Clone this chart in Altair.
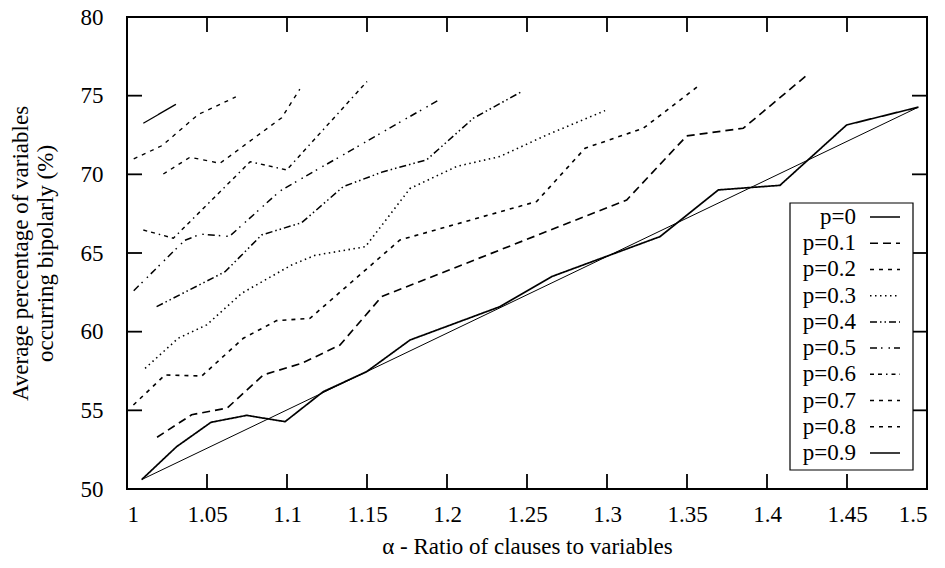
import altair as alt
import pandas as pd

# ---------------- data ----------------
series_labels = ["p=0", "p=0.1", "p=0.2", "p=0.3", "p=0.4",
                 "p=0.5", "p=0.6", "p=0.7", "p=0.8", "p=0.9"]

alpha_p00 = [1.0092, 1.031, 1.0525, 1.0748, 1.0988, 1.1227, 1.1498, 1.1769,
             1.2331, 1.2654, 1.3331, 1.3696, 1.4081, 1.4498, 1.4946]
pct_p00 = [50.6, 52.69, 54.24, 54.68, 54.28, 56.19, 57.46, 59.47,
           61.59, 63.5, 66.04, 69.01, 69.30, 73.14, 74.27]

alpha_p01 = [1.0188, 1.0404, 1.0627, 1.0852, 1.1092, 1.1331, 1.1592,
             1.3123, 1.3498, 1.3852, 1.4244]
pct_p01 = [53.29, 54.72, 55.15, 57.25, 57.99, 59.15, 62.23,
           68.37, 72.44, 72.93, 76.26]

alpha_p02 = [1.004, 1.0238, 1.0467, 1.0727, 1.0935, 1.1144, 1.1706,
             1.256, 1.2863, 1.3227, 1.358]
pct_p02 = [55.34, 57.25, 57.18, 59.58, 60.70, 60.85, 65.83,
           68.27, 71.66, 72.93, 75.68]

alpha_p03 = [1.0113, 1.032, 1.0498, 1.0717, 1.1029, 1.1175, 1.149,
             1.1769, 1.206, 1.233, 1.2623, 1.2988]
pct_p03 = [57.67, 59.58, 60.43, 62.44, 64.24, 64.85, 65.4,
           69.1, 70.5, 71.13, 72.5, 74.05]

alpha_p04 = [1.0185, 1.0613, 1.0842, 1.1092, 1.1352, 1.1602, 1.1873,
             1.2165, 1.2467]
pct_p04 = [61.59, 63.81, 66.15, 66.93, 69.22, 70.17, 70.92, 73.57, 75.26]

alpha_p05 = [1.0042, 1.036, 1.046, 1.064, 1.0956, 1.1956]
pct_p05 = [62.6, 65.8, 66.2, 66.05, 68.94, 74.77]

alpha_p06 = [1.0102, 1.029, 1.077, 1.0998, 1.15]
pct_p06 = [66.46, 65.94, 70.8, 70.28, 75.9]

alpha_p07 = [1.0227, 1.0394, 1.0581, 1.0967, 1.108]
pct_p07 = [70.02, 71.09, 70.7, 73.6, 75.41]

alpha_p08 = [1.0042, 1.022, 1.0445, 1.068]
pct_p08 = [70.98, 71.83, 73.8, 74.92]

alpha_p09 = [1.0102, 1.0306]
pct_p09 = [73.25, 74.45]

# thin straight reference line
ref_alpha = [1.0092, 1.4946]
ref_pct = [50.6, 74.27]

x_ticks = [1.0, 1.05, 1.1, 1.15, 1.2, 1.25, 1.3, 1.35, 1.4, 1.45, 1.5]
y_ticks = [50, 55, 60, 65, 70, 75, 80]

x_title = "\u03b1 - Ratio of clauses to variables"
y_title = ["Average percentage of variables", "occurring bipolarly (%)"]

# ---------------- tables ----------------
alphas = [alpha_p00, alpha_p01, alpha_p02, alpha_p03, alpha_p04,
          alpha_p05, alpha_p06, alpha_p07, alpha_p08, alpha_p09]
pcts = [pct_p00, pct_p01, pct_p02, pct_p03, pct_p04,
        pct_p05, pct_p06, pct_p07, pct_p08, pct_p09]
rows = []
for lab, xs, ys in zip(series_labels, alphas, pcts):
    for a, v in zip(xs, ys):
        rows.append({"series": lab, "alpha": a, "pct": v})
df = pd.DataFrame(rows)
ref_df = pd.DataFrame({"alpha": ref_alpha, "pct": ref_pct})
xt_df = pd.DataFrame({"alpha": x_ticks})
yt_df = pd.DataFrame({"pct": y_ticks})
leg_df = pd.DataFrame({"series": series_labels})
box_df = pd.DataFrame({"box": [0]})

# ---------------- styles ----------------
W, H = 800, 472
FONT = "Liberation Serif, Times New Roman, DejaVu Serif, serif"
FS = 23
dashes = [[1, 0], [8, 5], [4, 5], [1.5, 3.5], [7, 3, 1.5, 3, 1.5, 3],
          [7, 4, 1.5, 6, 1.5, 4], [4, 4, 4, 4, 1.5, 4], [4, 5], [4, 5], [1, 0]]
widths = [1.7, 1.3, 1.3, 1.4, 1.3, 1.3, 1.3, 1.3, 1.3, 1.3]

x_scale = alt.Scale(domain=[1.0, 1.5], nice=False, zero=False)
y_scale = alt.Scale(domain=[50, 80], nice=False, zero=False)
dash_scale = alt.Scale(domain=series_labels, range=dashes)
width_scale = alt.Scale(domain=series_labels, range=widths)

x_axis = alt.Axis(values=x_ticks, format=".2~f", title=x_title,
                  labelBaseline="alphabetic", labelPadding=32,
                  titleX=W / 2, titleY=64, titleBaseline="alphabetic",
                  titleAlign="center")
y_axis = alt.Axis(values=y_ticks, title=y_title, labelPadding=24,
                  labelBaseline="middle",
                  titleAngle=270, titleX=-100, titleY=H / 2,
                  titleAlign="center", titleBaseline="alphabetic",
                  titleLineHeight=25)

lines = alt.Chart(df).mark_line(color="black").encode(
    x=alt.X("alpha:Q", scale=x_scale, axis=x_axis),
    y=alt.Y("pct:Q", scale=y_scale, axis=y_axis),
    strokeDash=alt.StrokeDash("series:N", scale=dash_scale, legend=None),
    strokeWidth=alt.StrokeWidth("series:N", scale=width_scale, legend=None),
    detail="series:N",
)

ref_line = alt.Chart(ref_df).mark_line(color="black", strokeWidth=1).encode(
    x=alt.X("alpha:Q", scale=x_scale, axis=x_axis),
    y=alt.Y("pct:Q", scale=y_scale, axis=y_axis),
)

TL = 15
tick_style = dict(color="black", strokeWidth=1.8)
xt_bottom = alt.Chart(xt_df).mark_rule(**tick_style).encode(
    x=alt.X("alpha:Q", scale=x_scale, axis=x_axis),
    y=alt.value(H), y2=alt.value(H - TL))
xt_top = alt.Chart(xt_df).mark_rule(**tick_style).encode(
    x=alt.X("alpha:Q", scale=x_scale, axis=x_axis),
    y=alt.value(0), y2=alt.value(TL))
yt_left = alt.Chart(yt_df).mark_rule(**tick_style).encode(
    y=alt.Y("pct:Q", scale=y_scale, axis=y_axis),
    x=alt.value(0), x2=alt.value(TL))
yt_right = alt.Chart(yt_df).mark_rule(**tick_style).encode(
    y=alt.Y("pct:Q", scale=y_scale, axis=y_axis),
    x=alt.value(W), x2=alt.value(W - TL))

main = alt.layer(ref_line, lines, xt_bottom, xt_top, yt_left, yt_right)

# ---------------- legend (gnuplot style, box at lower right) ----------------
leg_y = alt.Y("series:N", sort=series_labels,
              scale=alt.Scale(type="point", domain=series_labels,
                              range=[200, 436], padding=0),
              axis=None)
leg_box = alt.Chart(box_df).mark_rect(fill="white", stroke="black",
                                      strokeWidth=1.2).encode(
    x=alt.value(663), x2=alt.value(786), y=alt.value(186), y2=alt.value(453))
leg_text = alt.Chart(leg_df).mark_text(align="right", baseline="middle",
                                       font=FONT, fontSize=FS,
                                       color="black").encode(
    x=alt.value(729), y=leg_y, text="series:N")
leg_rule = alt.Chart(leg_df).mark_rule(color="black").encode(
    x=alt.value(743), x2=alt.value(773), y=leg_y,
    strokeDash=alt.StrokeDash("series:N", scale=dash_scale, legend=None),
    strokeWidth=alt.StrokeWidth("series:N", scale=width_scale, legend=None),
)
legend = alt.layer(leg_box, leg_text, leg_rule)

chart = alt.layer(main, legend).resolve_scale(y="independent").properties(
    width=W, height=H,
    padding={"left": 119, "top": 9, "right": 10, "bottom": 70},
    autosize=alt.AutoSizeParams(type="none"),
).configure_view(
    stroke="black", strokeWidth=2
).configure_axis(
    grid=False, domain=False, ticks=False, tickSize=0,
    labelFont=FONT, labelFontSize=FS, labelColor="black",
    titleFont=FONT, titleFontSize=FS, titleColor="black", titleFontWeight="normal",
)

chart.save("out.html", embed_options={"renderer": "svg", "actions": False})
